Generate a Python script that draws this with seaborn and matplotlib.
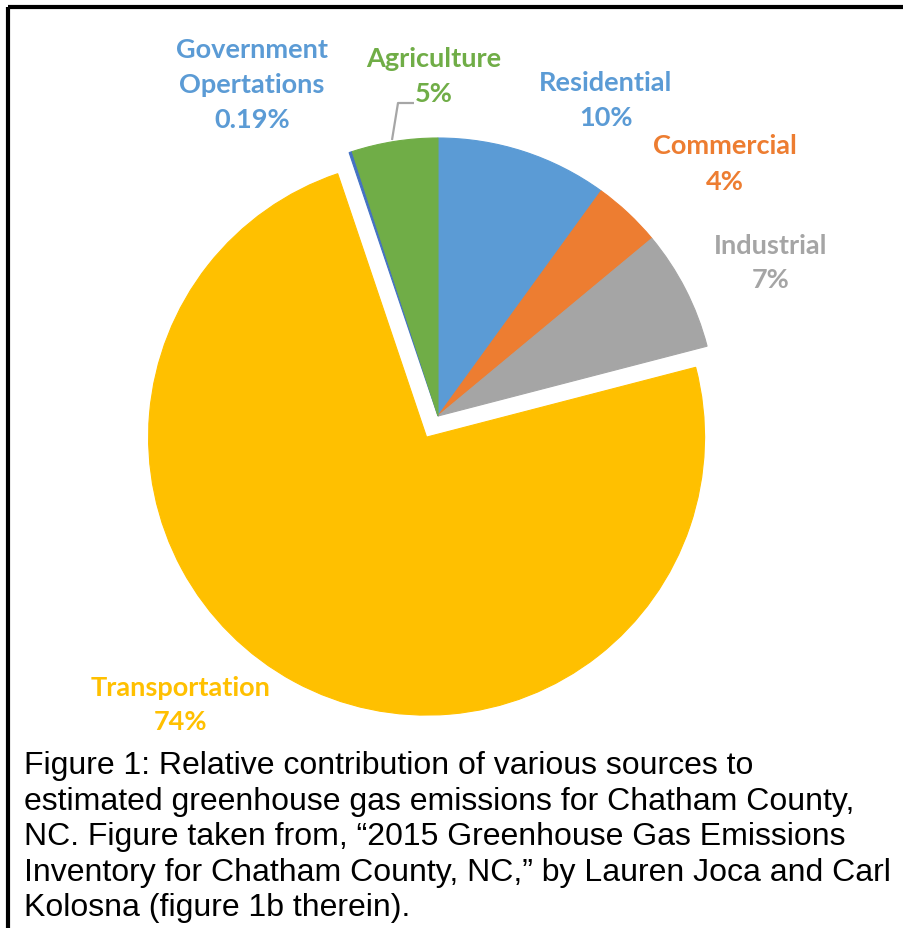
import matplotlib
matplotlib.use("Agg")
import matplotlib.pyplot as plt
import seaborn as sns

# slice order: clockwise from 12 o'clock
sources = ["Residential", "Commercial", "Industrial", "Transportation",
           "Government\nOpertations", "Agriculture"]
shares = [10, 4, 7, 74, 0.19, 5]
share_labels = ["10%", "4%", "7%", "74%", "0.19%", "5%"]
slice_colors = ["#5B9BD5", "#ED7D31", "#A5A5A5", "#FFC000", "#4472C4", "#70AD47"]
label_colors = ["#5B9BD5", "#ED7D31", "#A5A5A5", "#FFC000", "#5B9BD5", "#70AD47"]

caption = ("Figure 1: Relative contribution of various sources to\n"
           "estimated greenhouse gas emissions for Chatham County,\n"
           "NC. Figure taken from, \u201c2015 Greenhouse Gas Emissions\n"
           "Inventory for Chatham County, NC,\u201d by Lauren Joca and Carl\n"
           "Kolosna (figure 1b therein).")

W, H = 904, 929
sns.set_style("white")
plt.rcParams['font.family'] = ['Lato', 'DejaVu Sans']

fig = plt.figure(figsize=(W / 100, H / 100), dpi=100)
ax = fig.add_axes([0, 0, 1, 1])


def py(y):
    # pixel row (from top) -> data y
    return H - y


center = (438, py(417))
radius = 278
explode = [24 if s == "Transportation" else 0 for s in sources]

wedges, _ = ax.pie(shares, colors=slice_colors, startangle=90, counterclock=False,
                   explode=explode, radius=radius, center=center,
                   wedgeprops={'linewidth': 0.8})
for w in wedges:
    w.set_edgecolor(w.get_facecolor())

ax.set_xlim(0, W)
ax.set_ylim(0, H)
ax.set_aspect('auto')
ax.axis('off')

# label anchor points (pixel positions of the label block centres)
label_pos = {
    "Residential": (606, 100),
    "Commercial": (725, 164),
    "Industrial": (771, 263),
    "Transportation": (181, 705),
    "Government\nOpertations": (252, 85),
    "Agriculture": (434, 76),
}
for src, lab, col in zip(sources, share_labels, label_colors):
    x, y = label_pos[src]
    ax.text(x, py(y), f"{src}\n{lab}", ha='center', va='center', color=col,
            fontsize=19.5, fontweight='bold', linespacing=1.55)

# leader line for Agriculture
ax.plot([414, 398, 392], [py(104), py(104), py(141)], color="#A6A6A6", lw=1.6,
        solid_capstyle='butt')

fig.text(24 / W, 1 - 751 / H, caption, ha='left', va='top', fontsize=23,
         family=['Liberation Sans', 'DejaVu Sans'], linespacing=1.24, color='black')

# frame lines (top and left)
ax.plot([8, W], [py(8), py(8)], color='black', lw=3, solid_capstyle='butt')
ax.plot([8, 8], [py(8), 0], color='black', lw=3, solid_capstyle='butt')

fig.savefig("out.png", dpi=100)
